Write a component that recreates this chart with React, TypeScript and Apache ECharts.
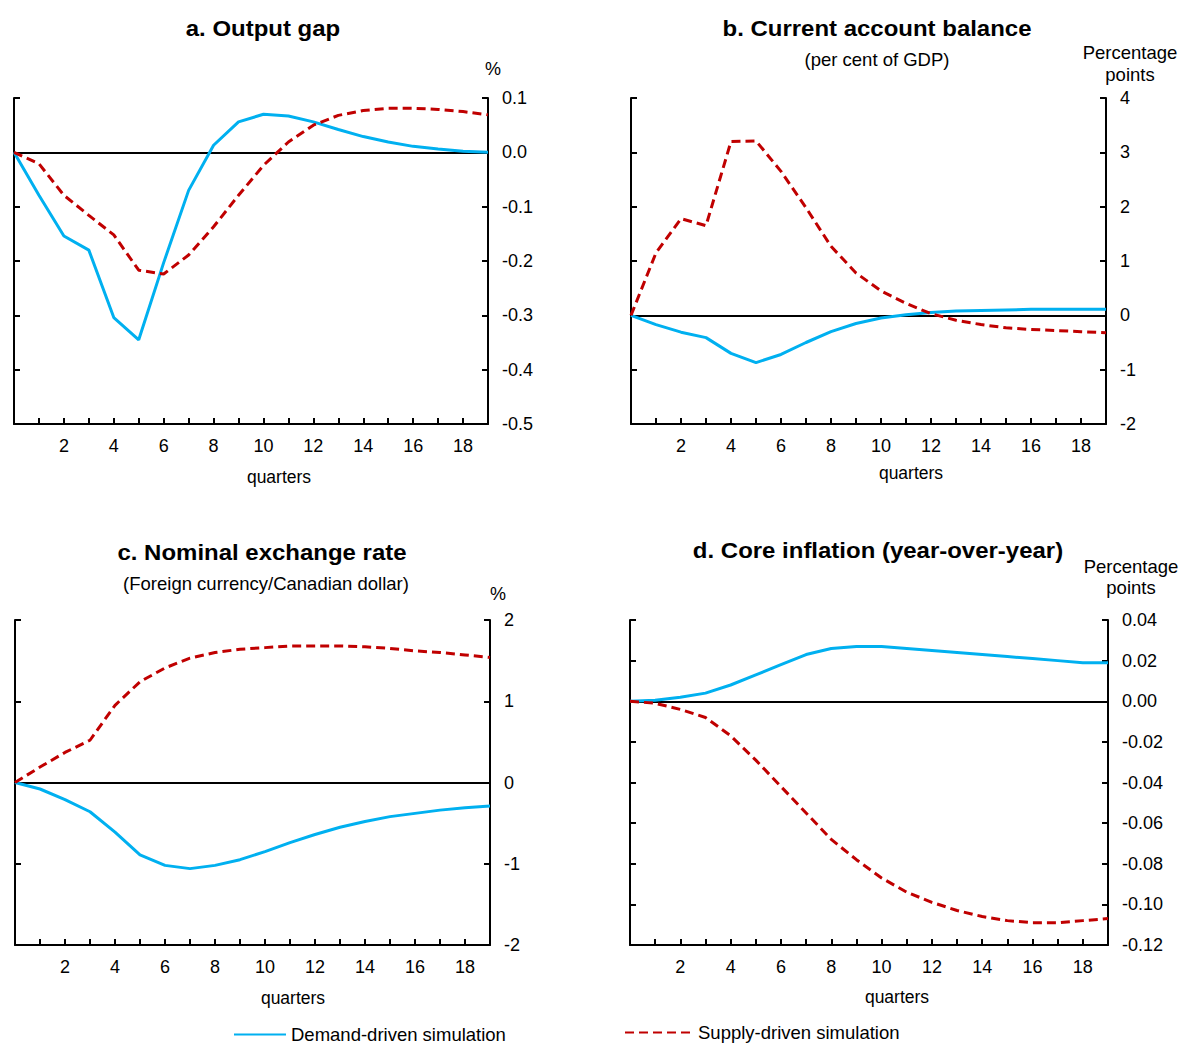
import React, { useEffect, useRef } from "react";
import * as echarts from "echarts";

const quarters = [0, 1, 2, 3, 4, 5, 6, 7, 8, 9, 10, 11, 12, 13, 14, 15, 16, 17, 18, 19];

// a. Output gap (%)
const outputGapDemand = [0, -0.079, -0.154, -0.18, -0.304, -0.345, -0.203, -0.07, 0.013, 0.056, 0.07, 0.067, 0.056, 0.042, 0.029, 0.019, 0.011, 0.006, 0.002, 0.0];
const outputGapSupply = [0, -0.021, -0.079, -0.116, -0.152, -0.217, -0.224, -0.189, -0.137, -0.079, -0.024, 0.019, 0.05, 0.068, 0.077, 0.081, 0.081, 0.079, 0.075, 0.069];

// b. Current account balance (percentage points of GDP)
const currentAccountDemand = [0, -0.17, -0.31, -0.41, -0.7, -0.87, -0.72, -0.5, -0.3, -0.15, -0.05, 0.01, 0.05, 0.08, 0.09, 0.1, 0.11, 0.11, 0.11, 0.11];
const currentAccountSupply = [0, 1.15, 1.78, 1.65, 3.2, 3.21, 2.65, 1.98, 1.27, 0.78, 0.45, 0.22, 0.03, -0.09, -0.17, -0.23, -0.26, -0.28, -0.3, -0.32];

// c. Nominal exchange rate (%)
const exchangeRateDemand = [0, -0.08, -0.21, -0.36, -0.61, -0.89, -1.02, -1.06, -1.02, -0.95, -0.85, -0.74, -0.64, -0.55, -0.48, -0.42, -0.38, -0.34, -0.31, -0.29];
const exchangeRateSupply = [0, 0.19, 0.37, 0.52, 0.95, 1.24, 1.41, 1.53, 1.6, 1.64, 1.66, 1.68, 1.68, 1.68, 1.67, 1.65, 1.62, 1.6, 1.57, 1.54];

// d. Core inflation (percentage points)
const coreInflationDemand = [0, 0.0005, 0.002, 0.004, 0.008, 0.013, 0.018, 0.023, 0.026, 0.027, 0.027, 0.026, 0.025, 0.024, 0.023, 0.022, 0.021, 0.02, 0.019, 0.019];
const coreInflationSupply = [0, -0.001, -0.004, -0.008, -0.017, -0.029, -0.042, -0.055, -0.068, -0.078, -0.087, -0.094, -0.099, -0.103, -0.106, -0.108, -0.109, -0.109, -0.108, -0.107];

const DEMAND = "Demand-driven simulation";
const SUPPLY = "Supply-driven simulation";
const BLUE = "#00B0F0";
const RED = "#C00000";
const FONT = "'Liberation Sans', Arial, Helvetica, sans-serif";

const panels = [
  { grid: { left: 14, top: 98, width: 474, height: 326 }, min: -0.5, max: 0.1, interval: 0.1, digits: 1, demand: outputGapDemand, supply: outputGapSupply },
  { grid: { left: 631, top: 98, width: 475, height: 326 }, min: -2, max: 4, interval: 1, digits: 0, demand: currentAccountDemand, supply: currentAccountSupply },
  { grid: { left: 15, top: 620, width: 475, height: 325 }, min: -2, max: 2, interval: 1, digits: 0, demand: exchangeRateDemand, supply: exchangeRateSupply },
  { grid: { left: 630, top: 620, width: 478, height: 325 }, min: -0.12, max: 0.04, interval: 0.02, digits: 2, demand: coreInflationDemand, supply: coreInflationSupply },
];

const txt = (x: number, y: number, text: string, size: number, bold = false, sx = 1) => ({
  type: "text",
  x,
  y,
  scaleX: sx,
  style: {
    text,
    fontSize: size,
    fontWeight: bold ? "bold" : "normal",
    fontFamily: FONT,
    fill: "#000",
    align: "center",
    verticalAlign: "middle",
  },
  silent: true,
});

export default function App() {
  const ref = useRef<HTMLDivElement>(null);
  useEffect(() => {
    if (!ref.current) return;
    const chart = echarts.init(ref.current, undefined, { renderer: "svg" });
    const grids: any[] = [];
    const xAxes: any[] = [];
    const yAxes: any[] = [];
    const series: any[] = [];
    panels.forEach((p, i) => {
      grids.push({ ...p.grid, containLabel: false });
      xAxes.push({
        type: "value",
        gridIndex: i,
        min: 0,
        max: 19,
        interval: 1,
        axisLine: { show: true, onZero: false, lineStyle: { color: "#000", width: 2 } },
        axisTick: { show: true, inside: true, length: 6, lineStyle: { color: "#000", width: 2 } },
        axisLabel: {
          color: "#000",
          fontSize: 18,
          fontFamily: FONT,
          margin: 13,
          formatter: (v: number) => (v > 0 && v < 19 && v % 2 === 0 ? String(v) : ""),
        },
        splitLine: { show: false },
      });
      const yBase = {
        type: "value",
        gridIndex: i,
        min: p.min,
        max: p.max,
        interval: p.interval,
        axisLine: { show: true, onZero: false, lineStyle: { color: "#000", width: 2 } },
        axisTick: { show: true, inside: true, length: 6, lineStyle: { color: "#000", width: 2 } },
        splitLine: { show: false },
      };
      yAxes.push({ ...yBase, position: "left", axisLabel: { show: false } });
      yAxes.push({
        ...yBase,
        position: "right",
        axisLabel: {
          show: true,
          color: "#000",
          fontSize: 18,
          fontFamily: FONT,
          margin: 14,
          formatter: (v: number) => v.toFixed(p.digits),
        },
      });
      series.push({
        name: DEMAND,
        type: "line",
        xAxisIndex: i,
        yAxisIndex: 2 * i + 1,
        data: quarters.map((q, k) => [q, p.demand[k]]),
        symbol: "none",
        lineStyle: { color: BLUE, width: 3 },
        itemStyle: { color: BLUE },
        z: 3,
        markLine: {
          silent: true,
          symbol: ["none", "none"],
          label: { show: false },
          lineStyle: { color: "#000", width: 2, type: "solid" },
          data: [{ yAxis: 0 }],
          z: 1,
        },
      });
      series.push({
        name: SUPPLY,
        type: "line",
        xAxisIndex: i,
        yAxisIndex: 2 * i + 1,
        data: quarters.map((q, k) => [q, p.supply[k]]),
        symbol: "none",
        lineStyle: { color: RED, width: 3, type: [9, 5] },
        itemStyle: { color: RED },
        z: 4,
      });
    });

    chart.setOption({
      animation: false,
      backgroundColor: "#fff",
      grid: grids,
      xAxis: xAxes,
      yAxis: yAxes,
      series,
      legend: [
        {
          data: [DEMAND],
          left: 233,
          top: 1025,
          padding: 0,
          itemWidth: 52,
          itemHeight: 14,
          itemStyle: { opacity: 0 },
          textStyle: { color: "#000", fontSize: 18.5, fontFamily: FONT },
          selectedMode: false,
        },
        {
          data: [SUPPLY],
          left: 624,
          top: 1023,
          padding: 0,
          itemWidth: 68,
          itemHeight: 14,
          itemStyle: { opacity: 0 },
          textStyle: { color: "#000", fontSize: 18.5, fontFamily: FONT },
          selectedMode: false,
        },
      ],
      graphic: [
        txt(263, 28, "a. Output gap", 22, true, 1.09),
        txt(493, 69, "%", 18),
        txt(279, 477, "quarters", 17.5),
        txt(877, 28, "b. Current account balance", 22, true, 1.09),
        txt(877, 59, "(per cent of GDP)", 18.5),
        txt(1130, 52, "Percentage", 18.5),
        txt(1130, 74, "points", 18.5),
        txt(911, 473, "quarters", 17.5),
        txt(262, 552, "c. Nominal exchange rate", 22, true, 1.09),
        txt(266, 583, "(Foreign currency/Canadian dollar)", 18.5),
        txt(498, 594, "%", 18),
        txt(293, 998, "quarters", 17.5),
        txt(878, 550, "d. Core inflation (year-over-year)", 22, true, 1.09),
        txt(1131, 566, "Percentage", 18.5),
        txt(1131, 587, "points", 18.5),
        txt(897, 997, "quarters", 17.5),
      ],
    });
    return () => chart.dispose();
  }, []);
  return (
    <div
      ref={ref}
      style={{ position: "absolute", left: 0, top: 0, width: 1180, height: 1046, background: "#fff" }}
    />
  );
}
